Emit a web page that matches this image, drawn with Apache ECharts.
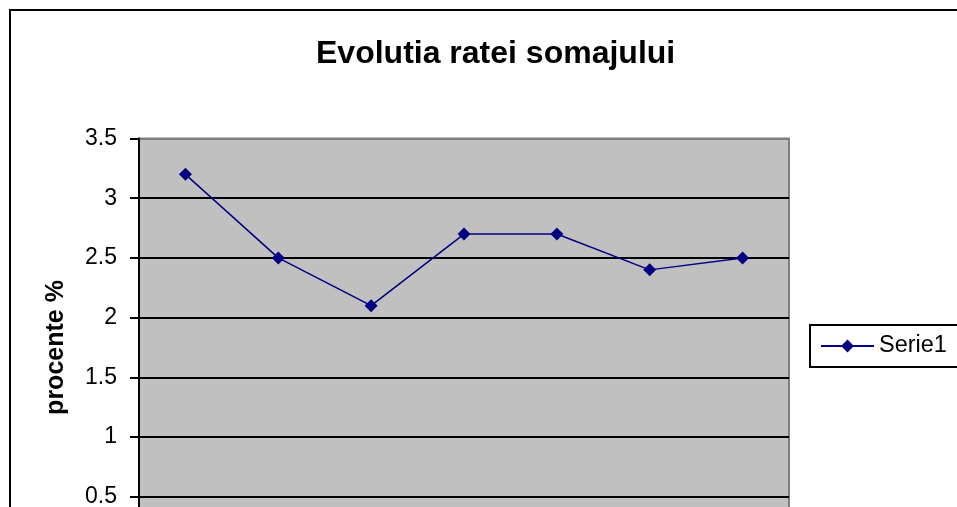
<!DOCTYPE html>
<html>
<head>
<meta charset="utf-8">
<script src="https://cdn.jsdelivr.net/npm/echarts@6/dist/echarts.min.js"></script>
<style>
html, body { margin: 0; padding: 0; background: #fff; }
#chartmain { width: 957px; height: 507px; }
</style>
</head>
<body>
<div id="chartmain"></div>
<script>
// date grafic
var categorii = ['1', '2', '3', '4', '5', '6', '7'];
var serie1 = [3.2, 2.5, 2.1, 2.7, 2.7, 2.4, 2.5];
var titlu = 'Evolutia ratei somajului';
var numeSerie = 'Serie1';
var numeAxaY = 'procente %';

var font = 'Arial, "Liberation Sans", sans-serif';

// liniile de grila: ultima (3.5) e marginea gri a zonei
var culoriGrila = ['#000', '#000', '#000', '#000', '#000', '#000', '#000', '#808080'];

var option = {
    animation: false,
    backgroundColor: '#fff',
    graphic: [{
        type: 'rect',
        shape: { x: 10, y: 10, width: 1000, height: 600 },
        style: { fill: 'none', stroke: '#000', lineWidth: 2 },
        z: -1
    }],
    title: {
        text: titlu,
        left: 316,
        top: 38,
        padding: 0,
        textStyle: { fontFamily: font, fontSize: 32, fontWeight: 'bold', color: '#000' }
    },
    legend: {
        data: [{ name: numeSerie }],
        left: 810,
        top: 325,
        orient: 'vertical',
        padding: [9, 40, 9, 10],
        borderColor: '#000',
        borderWidth: 2,
        itemWidth: 53,
        itemHeight: 16,
        textStyle: { fontFamily: font, fontSize: 23.5, color: '#000' }
    },
    grid: {
        left: 139,
        top: 138.5,
        width: 650,
        height: 418,
        outerBoundsMode: 'none',
        containLabel: false,
        show: true,
        backgroundColor: '#C0C0C0',
        borderColor: '#808080',
        borderWidth: 2
    },
    xAxis: {
        type: 'category',
        data: categorii,
        boundaryGap: true,
        axisLine: { lineStyle: { color: '#000', width: 2 } },
        axisTick: { show: false },
        axisLabel: { fontFamily: font, fontSize: 23, color: '#000' }
    },
    yAxis: {
        type: 'value',
        min: 0,
        max: 3.5,
        interval: 0.5,
        name: numeAxaY,
        nameLocation: 'middle',
        nameGap: 70,
        nameTextStyle: { fontFamily: font, fontSize: 25, fontWeight: 'bold', color: '#000' },
        axisLine: { show: true, lineStyle: { color: '#000', width: 2 } },
        axisTick: { show: true, length: 9, lineStyle: { color: '#000', width: 2 } },
        axisLabel: { fontFamily: font, fontSize: 23, color: '#000', margin: 22 },
        splitLine: { show: true, lineStyle: { color: culoriGrila, width: 2 } }
    },
    series: [{
        name: numeSerie,
        type: 'line',
        data: serie1,
        symbol: 'diamond',
        symbolSize: 13,
        itemStyle: { color: '#000080' },
        lineStyle: { color: '#000080', width: 1.5 }
    }]
};

var myChart = echarts.init(document.getElementById('chartmain'));
myChart.setOption(option);
</script>
</body>
</html>
